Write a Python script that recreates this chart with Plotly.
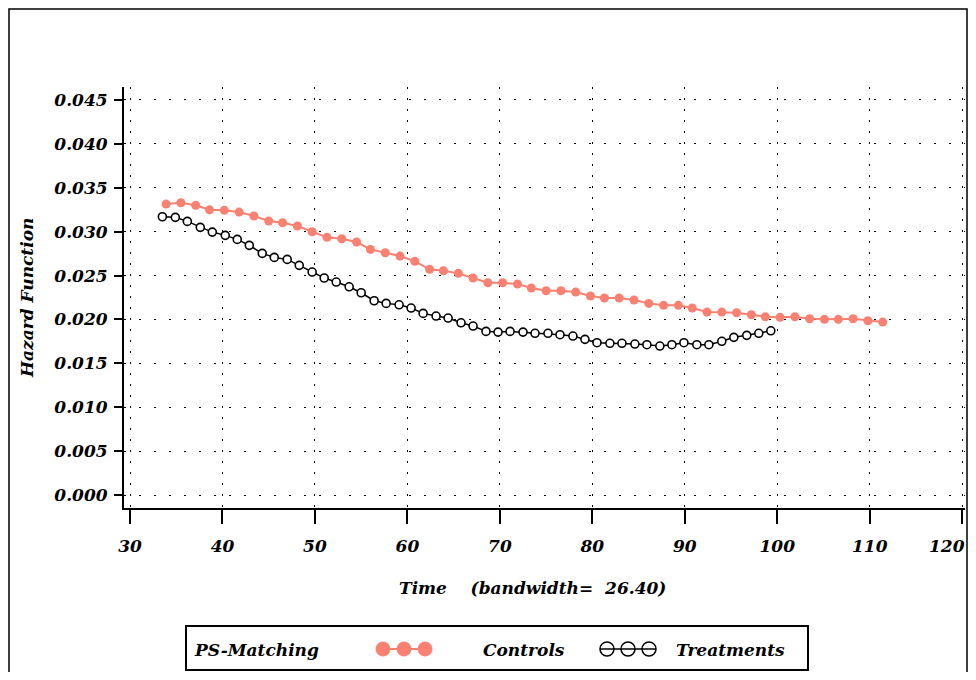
import plotly.graph_objects as go

# ---- data ----
controls_time = [33.9, 35.5, 37.1, 38.6, 40.2, 41.8, 43.4, 45.0, 46.5, 48.1,
                 49.7, 51.3, 52.9, 54.5, 56.0, 57.6, 59.2, 60.8, 62.4, 63.9,
                 65.5, 67.1, 68.7, 70.3, 71.9, 73.4, 75.0, 76.6, 78.2, 79.8,
                 81.3, 82.9, 84.5, 86.1, 87.7, 89.3, 90.8, 92.4, 94.0, 95.6,
                 97.2, 98.7, 100.3, 101.9, 103.5, 105.1, 106.6, 108.2, 109.8, 111.4]
controls_hazard = [0.03314, 0.03329, 0.03300, 0.03249, 0.03243, 0.03223, 0.03178, 0.03121, 0.03101, 0.03064,
                   0.02999, 0.02935, 0.02919, 0.02882, 0.02798, 0.02760, 0.02722, 0.02662, 0.02571, 0.02555,
                   0.02525, 0.02472, 0.02418, 0.02418, 0.02403, 0.02358, 0.02327, 0.02327, 0.02312, 0.02267,
                   0.02244, 0.02244, 0.02221, 0.02183, 0.02161, 0.02161, 0.02130, 0.02084, 0.02084, 0.02076,
                   0.02054, 0.02031, 0.02024, 0.02031, 0.02008, 0.02001, 0.02001, 0.02008, 0.01985, 0.01970]

treat_time = [33.5, 34.9, 36.2, 37.6, 38.9, 40.3, 41.6, 42.9, 44.3, 45.6,
              47.0, 48.3, 49.7, 51.0, 52.3, 53.7, 55.0, 56.4, 57.7, 59.1,
              60.4, 61.7, 63.1, 64.4, 65.8, 67.1, 68.5, 69.8, 71.1, 72.5,
              73.8, 75.2, 76.5, 77.9, 79.2, 80.5, 81.9, 83.2, 84.6, 85.9,
              87.3, 88.6, 89.9, 91.3, 92.6, 94.0, 95.3, 96.7, 98.0, 99.3]
treat_hazard = [0.03170, 0.03163, 0.03117, 0.03049, 0.02995, 0.02958, 0.02912, 0.02844, 0.02753, 0.02707,
                0.02684, 0.02616, 0.02540, 0.02472, 0.02426, 0.02372, 0.02304, 0.02213, 0.02183, 0.02167,
                0.02130, 0.02069, 0.02039, 0.02016, 0.01962, 0.01925, 0.01864, 0.01856, 0.01864, 0.01856,
                0.01842, 0.01842, 0.01826, 0.01811, 0.01773, 0.01735, 0.01728, 0.01728, 0.01720, 0.01712,
                0.01697, 0.01712, 0.01735, 0.01712, 0.01712, 0.01751, 0.01796, 0.01819, 0.01842, 0.01871]

x_ticks = [30, 40, 50, 60, 70, 80, 90, 100, 110, 120]
x_tick_labels = ["30", "40", "50", "60", "70", "80", "90", "100", "110", "120"]
y_ticks = [0.000, 0.005, 0.010, 0.015, 0.020, 0.025, 0.030, 0.035, 0.040, 0.045]
y_tick_labels = ["0.000", "0.005", "0.010", "0.015", "0.020", "0.025", "0.030", "0.035", "0.040", "0.045"]

SALMON = "#FA8072"
FONT = dict(family="DejaVu Serif", size=17, color="black", style="italic", weight="bold")

fig = go.Figure()
fig.add_trace(go.Scatter(
    x=controls_time, y=controls_hazard, mode="lines+markers", name="Controls",
    line=dict(color=SALMON, width=2),
    marker=dict(color=SALMON, size=9, symbol="circle"),
    cliponaxis=False))
fig.add_trace(go.Scatter(
    x=treat_time, y=treat_hazard, mode="lines+markers", name="Treatments",
    line=dict(color="black", width=1.5),
    marker=dict(color="white", size=8, symbol="circle",
                line=dict(color="black", width=1.6)),
    cliponaxis=False))

# page is offset by the 8px body margin; work in screen pixels and shift
OFF = 8
FIG_W, FIG_H = 976 - 2 * OFF, 680 - 2 * OFF
# plot area in screen pixels: left 124, right 965, top 87, bottom 508
L, R, T, B = 124, 965, 87, 508
W, H = R - L, B - T


def px(x):
    return (x - L) / W


def py(y):
    return (B - y) / H


fig.update_layout(
    width=FIG_W, height=FIG_H,
    margin=dict(l=L - OFF, r=(FIG_W + OFF) - R, t=T - OFF, b=(FIG_H + OFF) - B,
                autoexpand=False),
    paper_bgcolor="white", plot_bgcolor="white",
    showlegend=False,
    font=FONT,
)
# the last label sits at the page edge; it is drawn right-aligned below
shown_x_labels = x_tick_labels[:-1] + [""]
fig.update_xaxes(
    range=[29.35, 120.3], tickvals=x_ticks, ticktext=shown_x_labels,
    showline=True, linecolor="black", linewidth=2,
    ticks="outside", ticklen=14, tickwidth=2, tickcolor="black",
    ticklabelstandoff=8, automargin=False,
    showgrid=True, gridcolor="black", gridwidth=1, griddash="1.5px,9.5px",
    zeroline=False, tickfont=FONT,
)
fig.update_yaxes(
    range=[-0.00148, 0.04648], tickvals=y_ticks, ticktext=y_tick_labels,
    showline=True, linecolor="black", linewidth=2,
    ticks="outside", ticklen=8, tickwidth=2, tickcolor="black",
    ticklabelstandoff=3, automargin=False,
    showgrid=True, gridcolor="black", gridwidth=1, griddash="1.5px,13.5px",
    zeroline=False, tickfont=FONT,
)
fig.add_annotation(xref="paper", yref="paper", x=px(967), y=py(546),
                   text=x_tick_labels[-1], showarrow=False, font=FONT,
                   xanchor="right", yanchor="middle")

# outer frame (left, top, right edges of the page)
fig.add_shape(type="rect", xref="paper", yref="paper",
              x0=px(9), x1=px(967), y0=py(700), y1=py(9),
              line=dict(color="black", width=1.5), fillcolor="rgba(0,0,0,0)", layer="below")

# axis titles
fig.add_annotation(xref="paper", yref="paper", x=px(532), y=py(588),
                   text="Time\u00a0\u00a0\u00a0\u00a0(bandwidth=\u00a0\u00a026.40)",
                   showarrow=False, font=FONT, xanchor="center", yanchor="middle")
fig.add_annotation(xref="paper", yref="paper", x=px(27), y=py(298),
                   text="Hazard Function", textangle=-90,
                   showarrow=False, font=FONT, xanchor="center", yanchor="middle")

# legend box
fig.add_shape(type="rect", xref="paper", yref="paper",
              x0=px(186), x1=px(808), y0=py(670), y1=py(626),
              line=dict(color="black", width=2), fillcolor="white")
fig.add_annotation(xref="paper", yref="paper", x=px(192), y=py(650),
                   text="PS-Matching", showarrow=False, font=FONT,
                   xanchor="left", yanchor="middle")
fig.add_annotation(xref="paper", yref="paper", x=px(481), y=py(650),
                   text="Controls", showarrow=False, font=FONT,
                   xanchor="left", yanchor="middle")
fig.add_annotation(xref="paper", yref="paper", x=px(674), y=py(650),
                   text="Treatments", showarrow=False, font=FONT,
                   xanchor="left", yanchor="middle")

# legend sample symbols (decoration)
LEG_Y = 649
fig.add_shape(type="line", xref="paper", yref="paper",
              x0=px(383), x1=px(425), y0=py(LEG_Y), y1=py(LEG_Y),
              line=dict(color=SALMON, width=2))
for cx in (383, 404, 425):
    fig.add_shape(type="circle", xref="paper", yref="paper",
                  x0=px(cx - 7), x1=px(cx + 7), y0=py(LEG_Y + 7), y1=py(LEG_Y - 7),
                  line=dict(color=SALMON, width=1), fillcolor=SALMON)
fig.add_shape(type="line", xref="paper", yref="paper",
              x0=px(600), x1=px(656), y0=py(LEG_Y), y1=py(LEG_Y),
              line=dict(color="black", width=1.5))
for cx in (607, 628, 649):
    fig.add_shape(type="circle", xref="paper", yref="paper",
                  x0=px(cx - 7), x1=px(cx + 7), y0=py(LEG_Y + 7), y1=py(LEG_Y - 7),
                  line=dict(color="black", width=1.5), fillcolor="rgba(0,0,0,0)")

fig.write_html("out.html")
